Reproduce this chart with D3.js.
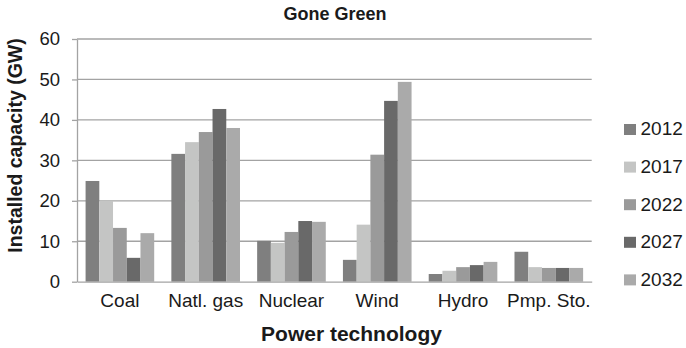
<!DOCTYPE html>
<html>
<head>
<meta charset="utf-8">
<script src="https://cdn.jsdelivr.net/npm/d3@7/dist/d3.min.js"></script>
<style>
  html, body { margin: 0; padding: 0; background: #fff; }
  svg { display: block; font-family: "Liberation Sans", Arial, Helvetica, sans-serif; }
</style>
</head>
<body>
<svg id="chart" width="686" height="348"></svg>
<script>
// Installed capacity (GW) by technology, Gone Green scenario
const categories = ["Coal", "Natl. gas", "Nuclear", "Wind", "Hydro", "Pmp. Sto."];
const years = ["2012", "2017", "2022", "2027", "2032"];
const values2012 = [24.9, 31.6, 10.1, 5.4, 1.9, 7.4];
const values2017 = [20.0, 34.5, 9.6, 14.1, 2.7, 3.6];
const values2022 = [13.3, 37.0, 12.3, 31.4, 3.6, 3.4];
const values2027 = [5.9, 42.7, 15.0, 44.7, 4.1, 3.4];
const values2032 = [12.0, 38.0, 14.8, 49.4, 4.9, 3.4];
const yTicks = [0, 10, 20, 30, 40, 50, 60];
const colors = ["#7f7f7f", "#c4c5c4", "#9a9a9a", "#696969", "#aaaaaa"];

const seriesValues = [values2012, values2017, values2022, values2027, values2032];
const rows = categories.map((c, i) => ({
  category: c,
  bars: years.map((y, j) => ({ year: y, value: seriesValues[j][i] }))
}));

const svg = d3.select("#chart");
const plot = { left: 77, right: 591.7, top: 39, bottom: 281.7 };
const textColor = "#1a1a1a";
const gridColor = "#a3a3a3";

const x0 = d3.scaleBand().domain(categories).range([plot.left, plot.right]).paddingInner(0).paddingOuter(0);
const step = x0.bandwidth();
const gap = step * 0.2;
const x1 = d3.scaleBand().domain(years).range([gap / 2, step - gap / 2]).padding(0);
const y = d3.scaleLinear().domain([0, 60]).range([plot.bottom, plot.top]);

// horizontal gridlines
svg.append("g")
  .selectAll("line")
  .data(yTicks.filter(t => t > 0))
  .join("line")
  .attr("x1", plot.left)
  .attr("x2", plot.right)
  .attr("y1", d => y(d))
  .attr("y2", d => y(d))
  .attr("stroke", gridColor)
  .attr("stroke-width", 1.3);

// bars
const groups = svg.append("g")
  .selectAll("g")
  .data(rows)
  .join("g")
  .attr("transform", d => `translate(${x0(d.category)},0)`);

groups.selectAll("rect")
  .data(d => d.bars)
  .join("rect")
  .attr("x", d => x1(d.year))
  .attr("width", x1.bandwidth())
  .attr("y", d => y(d.value))
  .attr("height", d => y(0) - y(d.value))
  .attr("fill", (d, i) => colors[i]);

// y axis
const yAxis = svg.append("g")
  .attr("transform", `translate(${plot.left},0)`)
  .call(d3.axisLeft(y).tickValues(yTicks).tickFormat(d3.format("d")).tickSizeInner(5).tickSizeOuter(0).tickPadding(12));
yAxis.select(".domain").attr("stroke", gridColor).attr("stroke-width", 1.3);
yAxis.selectAll(".tick line").attr("stroke", gridColor).attr("stroke-width", 1.3);
yAxis.selectAll(".tick text")
  .attr("fill", textColor)
  .attr("font-size", 18.5)
  .attr("font-family", "Liberation Sans, Arial, sans-serif");

// x axis baseline and category labels
const xAxis = svg.append("g")
  .attr("transform", `translate(0,${plot.bottom})`)
  .call(d3.axisBottom(x0).tickSize(0).tickPadding(12));
xAxis.select(".domain").attr("stroke", gridColor).attr("stroke-width", 1.3);
xAxis.selectAll(".tick text")
  .attr("fill", textColor)
  .attr("font-size", 19)
  .attr("font-family", "Liberation Sans, Arial, sans-serif");

// title
svg.append("text")
  .attr("x", 335)
  .attr("y", 19.5)
  .attr("text-anchor", "middle")
  .attr("font-size", 18)
  .attr("font-weight", "bold")
  .attr("fill", textColor)
  .text("Gone Green");

// axis titles
svg.append("text")
  .attr("x", 351.5)
  .attr("y", 341)
  .attr("text-anchor", "middle")
  .attr("font-size", 21)
  .attr("font-weight", "bold")
  .attr("fill", textColor)
  .text("Power technology");

svg.append("text")
  .attr("transform", "translate(22,145.5) rotate(-90)")
  .attr("text-anchor", "middle")
  .attr("font-size", 19.5)
  .attr("font-weight", "bold")
  .attr("fill", textColor)
  .text("Installed capacity (GW)");

// legend
const legend = svg.append("g")
  .selectAll("g")
  .data(years)
  .join("g")
  .attr("transform", (d, i) => `translate(624,${124 + i * 37.6})`);
legend.append("rect")
  .attr("width", 12)
  .attr("height", 11)
  .attr("fill", (d, i) => colors[i]);
legend.append("text")
  .attr("x", 16.5)
  .attr("y", 11.3)
  .attr("font-size", 19)
  .attr("fill", textColor)
  .text(d => d);
</script>
</body>
</html>
